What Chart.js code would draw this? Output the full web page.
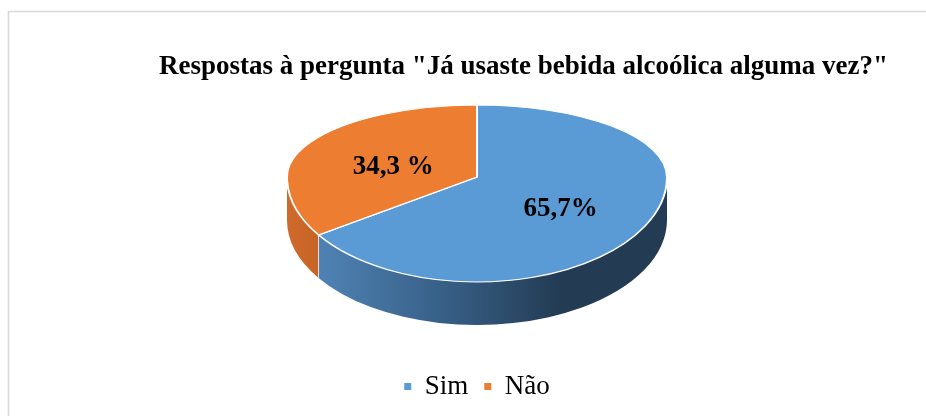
<!DOCTYPE html>
<html><head><meta charset="utf-8">
<script src="https://cdn.jsdelivr.net/npm/chart.js@4"></script>
<style>html,body{margin:0;padding:0;background:#fff}#wrap{width:926px;height:416px;position:relative}canvas{display:block}</style>
</head><body><div id="wrap"><canvas id="c" width="926" height="416"></canvas></div>
<script>
const categories = ['Sim', 'Não'];
const values = [65.7, 34.3];
const valueLabels = ['65,7%', '34,3 %'];
const topColors = ['#5b9bd5', '#ed7d31'];
const titleText = 'Respostas à pergunta "Já usaste bebida alcoólica alguma vez?"';

// projection of the flat pie into a tilted 3D disc
const VIEW = { vertexY: 177, tiltTop: 72 / 190, tiltBottom: 105 / 190, depth: 43, labelDrop: 7 };

function sideFill(ctx, i, cx, r) {
  if (i === 0) {
    const g = ctx.createLinearGradient(cx - r + 15, 0, cx + 85, 0);
    g.addColorStop(0, '#5287ba');
    g.addColorStop(0.55, '#375f86');
    g.addColorStop(1, '#233b53');
    return g;
  }
  const g = ctx.createLinearGradient(cx - r, 0, cx - r + 25, 0);
  g.addColorStop(0, '#d0692c');
  g.addColorStop(1, '#c76527');
  return g;
}

const pie3d = {
  id: 'pie3d',
  beforeDraw(chart) {
    const ctx = chart.ctx;
    ctx.save();
    ctx.strokeStyle = '#d9d9d9';
    ctx.lineWidth = 1.6;
    ctx.beginPath();
    ctx.moveTo(8.5, chart.height);
    ctx.lineTo(8.5, 11.5);
    ctx.lineTo(chart.width, 11.5);
    ctx.stroke();
    ctx.restore();
  },
  beforeDatasetsDraw(chart) {
    const ctx = chart.ctx;
    const arcs = chart.getDatasetMeta(0).data;
    const cx = arcs[0].x, cy = arcs[0].y, r = arcs[0].outerRadius;
    const vy = VIEW.vertexY, kb = VIEW.tiltBottom, d = VIEW.depth;
    arcs.forEach((arc, i) => {
      const s = arc.startAngle, e = arc.endAngle;
      for (let n = -1; n <= 1; n++) {
        const lo = Math.max(s, n * 2 * Math.PI), hi = Math.min(e, n * 2 * Math.PI + Math.PI);
        if (hi > lo) {
          ctx.save();
          ctx.beginPath();
          ctx.ellipse(cx, vy, r, r * kb, 0, lo, hi);
          ctx.ellipse(cx, vy + d, r, r * kb, 0, hi, lo, true);
          ctx.closePath();
          ctx.fillStyle = sideFill(ctx, i, cx, r);
          ctx.fill();
          if (lo > n * 2 * Math.PI + 0.01) {
            const x = cx + r * Math.cos(lo), y = vy + r * kb * Math.sin(lo);
            ctx.strokeStyle = 'rgba(255,255,255,0.7)';
            ctx.lineWidth = 1;
            ctx.beginPath();
            ctx.moveTo(x, y);
            ctx.lineTo(x, y + d);
            ctx.stroke();
          }
          ctx.restore();
        }
      }
    });
    ctx.save();
    ctx.beginPath();
    ctx.rect(0, 0, chart.width, vy);
    ctx.clip();
    ctx.translate(cx, vy);
    ctx.scale(1, VIEW.tiltTop);
    ctx.translate(-cx, -cy);
  },
  afterDatasetsDraw(chart) {
    const ctx = chart.ctx;
    ctx.restore();
    const arcs = chart.getDatasetMeta(0).data;
    const cx = arcs[0].x, cy = arcs[0].y;
    const vy = VIEW.vertexY;
    ctx.save();
    ctx.beginPath();
    ctx.rect(0, vy, chart.width, chart.height - vy);
    ctx.clip();
    ctx.translate(cx, vy);
    ctx.scale(1, VIEW.tiltBottom);
    ctx.translate(-cx, -cy);
    arcs.forEach(a => a.draw(ctx));
    ctx.restore();
    // value labels
    ctx.save();
    ctx.font = 'bold 27px "Liberation Serif", "Times New Roman", serif';
    ctx.fillStyle = '#000';
    ctx.textAlign = 'center';
    ctx.textBaseline = 'middle';
    arcs.forEach((a, i) => {
      const p = a.tooltipPosition();
      const k = p.y < cy ? VIEW.tiltTop : VIEW.tiltBottom;
      ctx.fillText(valueLabels[i], p.x, vy + (p.y - cy) * k + VIEW.labelDrop);
    });
    ctx.restore();
  }
};

new Chart(document.getElementById('c'), {
  type: 'pie',
  data: {
    labels: categories,
    datasets: [{
      data: values,
      backgroundColor: topColors,
      borderColor: '#ffffff',
      borderWidth: 2,
      radius: 190,
      clip: false
    }]
  },
  options: {
    responsive: false,
    animation: false,
    events: [],
    layout: { padding: { left: 66, right: 38, top: 0, bottom: 6 } },
    plugins: {
      title: {
        display: true,
        text: titleText,
        align: 'end',
        color: '#000',
        font: { family: '"Liberation Serif", "Times New Roman", serif', size: 27, weight: 'bold' },
        padding: { top: 51, bottom: 10 }
      },
      legend: {
        position: 'bottom',
        labels: {
          color: '#000',
          font: { family: '"Liberation Serif", "Times New Roman", serif', size: 27 },
          boxWidth: 7,
          boxHeight: 7,
          padding: 16,
          generateLabels(chart) {
            return Chart.overrides.pie.plugins.legend.labels.generateLabels(chart)
              .map(l => Object.assign(l, { lineWidth: 0, strokeStyle: 'rgba(0,0,0,0)' }));
          }
        }
      },
      tooltip: { enabled: false }
    }
  },
  plugins: [pie3d]
});
</script>
</body></html>
